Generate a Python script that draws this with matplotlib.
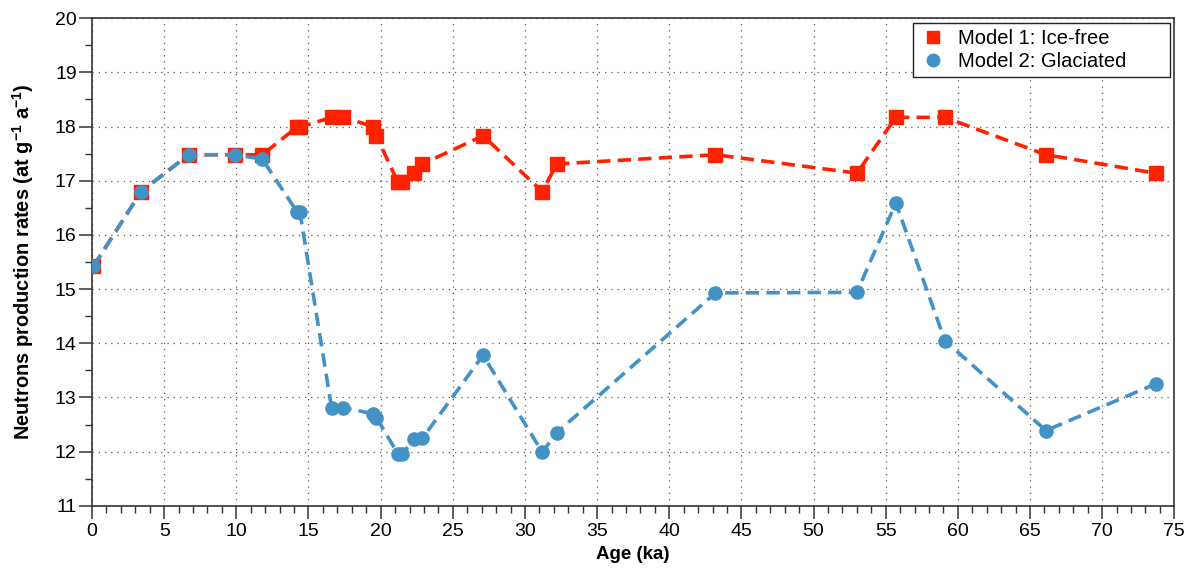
import matplotlib
matplotlib.use('Agg')
import matplotlib.pyplot as plt
from matplotlib.ticker import MultipleLocator
from matplotlib.lines import Line2D

plt.rcParams['font.family'] = ['Liberation Sans', 'DejaVu Sans']
plt.rcParams['mathtext.fontset'] = 'custom'
plt.rcParams['mathtext.rm'] = 'Liberation Sans'
plt.rcParams['mathtext.bf'] = 'Liberation Sans:bold'

# Sample ages (ka) shared by both models
ages = [0.1, 3.4, 6.7, 9.9, 11.8, 14.2, 14.4, 16.6, 17.4, 19.5, 19.7, 21.2, 21.5,
        22.3, 22.9, 27.1, 31.2, 32.2, 43.2, 53.0, 55.7, 59.1, 66.1, 73.7]

# Neutron production rates (at g-1 a-1)
ice_free = [15.42, 16.8, 17.48, 17.48, 17.48, 17.99, 17.99, 18.17, 18.17, 18.0, 17.83,
            16.97, 16.97, 17.14, 17.31, 17.83, 16.8, 17.31, 17.48, 17.14, 18.17, 18.17,
            17.48, 17.14]
glaciated = [15.42, 16.8, 17.48, 17.48, 17.40, 16.43, 16.43, 12.81, 12.81, 12.70, 12.63,
             11.96, 11.96, 12.23, 12.25, 13.78, 11.99, 12.35, 14.93, 14.94, 16.59, 14.05,
             12.39, 13.25]

labels = ['Model 1: Ice-free', 'Model 2: Glaciated']
red = '#ff2200'
blue = '#4292c6'

fig = plt.figure(figsize=(11.92, 5.69), dpi=100)
ax = fig.add_axes([0.0772, 0.111, 0.908, 0.857])

dash = (0, (3.7, 2.0))
ax.plot(ages, ice_free, color=red, linestyle=dash, linewidth=2.6,
        marker='s', markersize=9.5, zorder=3)
ax.plot(ages, glaciated, color=blue, linestyle=dash, linewidth=2.6,
        marker='o', markersize=9.5, zorder=4)

ax.set_xlim(0, 75)
ax.set_ylim(11, 20)
ax.xaxis.set_major_locator(MultipleLocator(5))
ax.xaxis.set_minor_locator(MultipleLocator(1))
ax.yaxis.set_major_locator(MultipleLocator(1))
ax.yaxis.set_minor_locator(MultipleLocator(0.5))

ax.tick_params(which='major', direction='out', length=9.5, width=1.1,
               color='#333333', labelsize=14)
ax.tick_params(which='minor', direction='out', length=5, width=1.0,
               color='#333333')
ax.tick_params(axis='x', which='major', pad=3)
ax.tick_params(axis='y', which='major', pad=1.5)
ax.tick_params(top=False, right=False, which='both')

for sp in ax.spines.values():
    sp.set_color('#333333')
    sp.set_linewidth(1.2)

ax.grid(True, which='major', color='#555555', linestyle=(0, (1, 4)), linewidth=0.9)
ax.set_axisbelow(True)

ax.set_xlabel('Age (ka)', fontsize=13.5, fontweight='bold')
ax.set_ylabel(r'Neutrons production rates (at g$^{\mathbf{-1}}$ a$^{\mathbf{-1}}$)',
              fontsize=14.4, fontweight='bold')
ax.xaxis.set_label_coords(0.5, -0.082)
ax.yaxis.set_label_coords(-0.052, 0.5)

handles = [Line2D([], [], color=red, marker='s', linestyle='none', markersize=9),
           Line2D([], [], color=blue, marker='o', linestyle='none', markersize=9)]
leg = ax.legend(handles, labels, loc='upper left', bbox_to_anchor=(0.7588, 0.0, 0.2375, 0.99),
                mode='expand', fontsize=14.5, fancybox=False, framealpha=1,
                edgecolor='#222222', borderpad=0.3, labelspacing=0.2,
                handletextpad=0.5, borderaxespad=0, handlelength=1.4)
leg.get_frame().set_linewidth(1.0)

fig.savefig('out.png', dpi=100)
